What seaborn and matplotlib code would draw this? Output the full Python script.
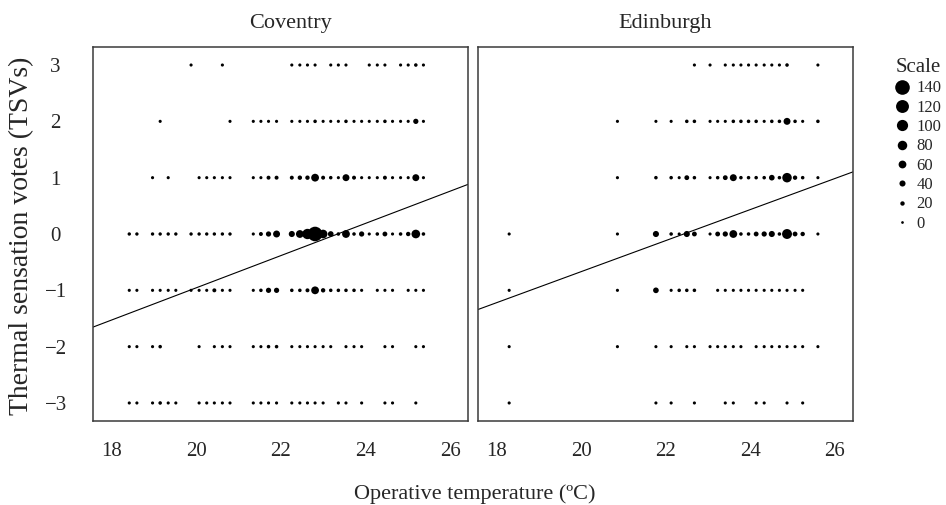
import pandas as pd
import numpy as np
import seaborn as sns
import matplotlib.pyplot as plt
from matplotlib.lines import Line2D

# Coventry: operative temperature (ºC) and number of votes, one pair per TSV level
cov_t_p3 = [19.88, 20.62, 22.26, 22.45, 22.63, 22.81, 23.18, 23.36, 23.54, 24.09, 24.28, 24.46, 24.83, 25.01, 25.19, 25.37]
cov_n_p3 = [5, 5, 5, 5, 5, 5, 5, 5, 5, 5, 5, 5, 5, 5, 10, 5]
cov_t_p2 = [19.15, 20.80, 21.35, 21.53, 21.71, 21.90, 22.26, 22.45, 22.63, 22.81, 23.00, 23.18, 23.36, 23.54, 23.73, 23.91,
            24.09, 24.28, 24.46, 24.64, 24.83, 25.01, 25.19, 25.37]
cov_n_p2 = [5, 5, 5, 5, 5, 5, 5, 5, 5, 10, 5, 5, 5, 10, 5, 5, 5, 5, 10, 5, 5, 5, 30, 5]
cov_t_p1 = [18.97, 19.34, 20.07, 20.25, 20.43, 20.62, 20.80, 21.35, 21.53, 21.71, 21.90, 22.26, 22.45, 22.63, 22.81, 23.00,
            23.18, 23.36, 23.54, 23.73, 23.91, 24.09, 24.28, 24.46, 24.64, 24.83, 25.01, 25.19, 25.37]
cov_n_p1 = [5, 5, 5, 5, 5, 5, 5, 5, 5, 15, 15, 15, 20, 20, 60, 15, 10, 5, 50, 15, 5, 5, 5, 15, 5, 5, 5, 50, 5]
cov_t_0 = [18.42, 18.60, 18.97, 19.15, 19.34, 19.52, 19.88, 20.07, 20.25, 20.43, 20.62, 20.80, 21.35, 21.53, 21.71, 21.90,
           22.26, 22.45, 22.63, 22.81, 23.00, 23.18, 23.36, 23.54, 23.73, 23.91, 24.09, 24.28, 24.46, 24.64, 24.83, 25.01,
           25.19, 25.37]
cov_n_0 = [8, 8, 8, 8, 8, 8, 8, 8, 8, 8, 8, 8, 5, 15, 30, 50, 40, 60, 90, 140, 70, 35, 10, 60, 10, 30, 5, 10, 25, 5, 10, 20,
           70, 10]
cov_t_m1 = [18.42, 18.60, 18.97, 19.15, 19.34, 19.52, 19.88, 20.07, 20.25, 20.43, 20.62, 20.80, 21.35, 21.53, 21.71, 21.90,
            22.26, 22.45, 22.63, 22.81, 23.00, 23.18, 23.36, 23.54, 23.73, 23.91, 24.28, 24.46, 24.64, 25.01, 25.19, 25.37]
cov_n_m1 = [5, 5, 5, 5, 5, 5, 5, 5, 5, 15, 5, 5, 5, 10, 30, 30, 10, 10, 15, 60, 20, 10, 10, 10, 10, 5, 5, 5, 5, 5, 5, 5]
cov_t_m2 = [18.42, 18.60, 18.97, 19.15, 20.07, 20.43, 20.62, 20.80, 21.35, 21.53, 21.71, 21.90, 22.26, 22.45, 22.63, 22.81,
            23.00, 23.18, 23.54, 23.73, 23.91, 24.46, 24.64, 25.19, 25.37]
cov_n_m2 = [5, 5, 5, 10, 5, 5, 5, 5, 5, 5, 10, 10, 5, 5, 5, 5, 5, 5, 5, 5, 5, 5, 5, 5, 5]
cov_t_m3 = [18.42, 18.60, 18.97, 19.15, 19.34, 19.52, 20.07, 20.25, 20.43, 20.62, 20.80, 21.35, 21.53, 21.71, 21.90, 22.26,
            22.45, 22.63, 22.81, 23.00, 23.36, 23.54, 23.91, 24.46, 24.64, 25.19]
cov_n_m3 = [5, 5, 5, 10, 5, 5, 5, 5, 5, 5, 5, 5, 5, 5, 5, 5, 5, 5, 5, 5, 5, 5, 5, 5, 5, 5]

# Edinburgh
edi_t_p3 = [22.68, 23.05, 23.41, 23.60, 23.78, 23.96, 24.14, 24.33, 24.51, 24.69, 24.87, 25.60]
edi_n_p3 = [5, 5, 5, 5, 5, 5, 5, 5, 5, 5, 10, 5]
edi_t_p2 = [20.86, 21.77, 22.13, 22.50, 22.68, 23.05, 23.23, 23.41, 23.60, 23.78, 23.96, 24.14, 24.33, 24.51, 24.69, 24.87,
            25.06, 25.24, 25.60]
edi_n_p2 = [5, 5, 5, 10, 10, 5, 5, 5, 10, 10, 10, 10, 5, 10, 10, 50, 10, 5, 10]
edi_t_p1 = [20.86, 21.77, 22.13, 22.32, 22.50, 22.68, 23.05, 23.23, 23.41, 23.60, 23.78, 23.96, 24.14, 24.33, 24.51, 24.69,
            24.87, 25.06, 25.24, 25.60]
edi_n_p1 = [5, 10, 10, 5, 25, 10, 5, 10, 25, 50, 10, 10, 10, 10, 35, 10, 80, 20, 10, 5]
edi_t_0 = [18.30, 20.86, 21.77, 22.13, 22.32, 22.50, 22.68, 23.05, 23.23, 23.41, 23.60, 23.78, 23.96, 24.14, 24.33, 24.51,
           24.69, 24.87, 25.06, 25.24, 25.60]
edi_n_0 = [5, 5, 40, 10, 5, 40, 25, 5, 25, 30, 60, 10, 10, 25, 30, 40, 10, 85, 25, 20, 5]
edi_t_m1 = [18.30, 20.86, 21.77, 22.13, 22.32, 22.50, 22.68, 23.23, 23.41, 23.60, 23.78, 23.96, 24.14, 24.33, 24.51, 24.69,
            24.87, 25.06, 25.24]
edi_n_m1 = [5, 5, 35, 5, 10, 10, 10, 5, 5, 5, 5, 5, 5, 5, 5, 5, 5, 5, 5]
edi_t_m2 = [18.30, 20.86, 21.77, 22.13, 22.50, 22.68, 23.05, 23.23, 23.41, 23.60, 23.78, 24.14, 24.33, 24.51, 24.69, 24.87,
            25.06, 25.24, 25.60]
edi_n_m2 = [5] * 19
edi_t_m3 = [18.30, 21.77, 22.13, 22.68, 23.41, 23.60, 24.14, 24.33, 24.87, 25.24]
edi_n_m3 = [5] * 10

# fitted lines (slope, intercept)
cov_fit = (0.286, -6.676)
edi_fit = (0.2756, -6.181)

scale_levels = [140, 120, 100, 80, 60, 40, 20, 0]

cities = ["Coventry", "Edinburgh"]
rows = {
    "Coventry": [(3, cov_t_p3, cov_n_p3), (2, cov_t_p2, cov_n_p2), (1, cov_t_p1, cov_n_p1), (0, cov_t_0, cov_n_0),
                 (-1, cov_t_m1, cov_n_m1), (-2, cov_t_m2, cov_n_m2), (-3, cov_t_m3, cov_n_m3)],
    "Edinburgh": [(3, edi_t_p3, edi_n_p3), (2, edi_t_p2, edi_n_p2), (1, edi_t_p1, edi_n_p1), (0, edi_t_0, edi_n_0),
                  (-1, edi_t_m1, edi_n_m1), (-2, edi_t_m2, edi_n_m2), (-3, edi_t_m3, edi_n_m3)],
}
fits = {"Coventry": cov_fit, "Edinburgh": edi_fit}

recs = []
for c in cities:
    for tsv, ts, ns in rows[c]:
        for t, n in zip(ts, ns):
            recs.append((c, t, tsv, n))
df = pd.DataFrame(recs, columns=["city", "temp", "tsv", "n"])

# marker area (pt^2): diameter grows roughly linearly with count
def area(n):
    return (0.72 * (2.7 + 0.085 * n)) ** 2

size_map = {n: area(n) for n in sorted(set(df["n"]) | set(scale_levels))}

sns.set_style("white")
plt.rcParams["font.family"] = ["Liberation Serif", "DejaVu Serif"]

fig = plt.figure(figsize=(9.46, 5.05), dpi=100)
W, H = 946, 505
boxes = [(92.7, 468.3), (477.7, 853)]
title_x = [291, 665]
top, bot = 47, 421
xlim = (17.556, 26.43)

for i, c in enumerate(cities):
    l, r = boxes[i]
    ax = fig.add_axes([l / W, 1 - bot / H, (r - l) / W, (bot - top) / H])
    sub = df[df["city"] == c]
    sns.scatterplot(data=sub, x="temp", y="tsv", size="n", sizes=size_map, color="black",
                    linewidth=0, legend=False, ax=ax)
    xs = np.array(xlim)
    m, b = fits[c]
    ax.plot(xs, m * xs + b, color="black", lw=0.8)
    ax.set_xlim(*xlim)
    ax.set_ylim(-3.32, 3.32)
    ax.set_xticks([18, 20, 22, 24, 26])
    ax.set_xlabel("")
    ax.set_ylabel("")
    for s in ax.spines.values():
        s.set_color("#3a3a3a")
        s.set_linewidth(1.1)
    ax.tick_params(axis="x", direction="out", length=6, width=1, color="#3a3a3a", labelsize=15, pad=9)
    if i == 0:
        ax.set_yticks([-3, -2, -1, 0, 1, 2, 3])
        ax.set_yticklabels(["\u22123", "\u22122", "\u22121", "0", "1", "2", "3"])
        ax.tick_params(axis="y", direction="out", length=6.7, width=1, color="#3a3a3a", labelsize=15, pad=20)
        for lab in ax.get_yticklabels():
            lab.set_horizontalalignment("center")
    else:
        ax.set_yticks([])
    fig.text(title_x[i] / W, 1 - 28 / H, c, ha="center", va="baseline", fontsize=16)

fig.text(475 / W, 1 - 494 / H, "Operative temperature (ºC)", ha="center", va="center", fontsize=16)
fig.text(22 / W, 1 - 236 / H, "Thermal sensation votes (TSVs)", ha="center", va="center",
         rotation=90, fontsize=20)

handles = [Line2D([], [], ls="", marker="o", color="black", markeredgewidth=0,
                  markersize=np.sqrt(size_map[v])) for v in scale_levels]
leg = fig.legend(handles, [str(v) for v in scale_levels], title="Scale", loc="upper left",
                 bbox_to_anchor=(895 / W, 1 - 58 / H), frameon=False, fontsize=12,
                 title_fontsize=15, handlelength=0.8, handletextpad=0.5, labelspacing=0.2,
                 borderpad=0.0, borderaxespad=0.0)

fig.savefig("out.png", dpi=100)
